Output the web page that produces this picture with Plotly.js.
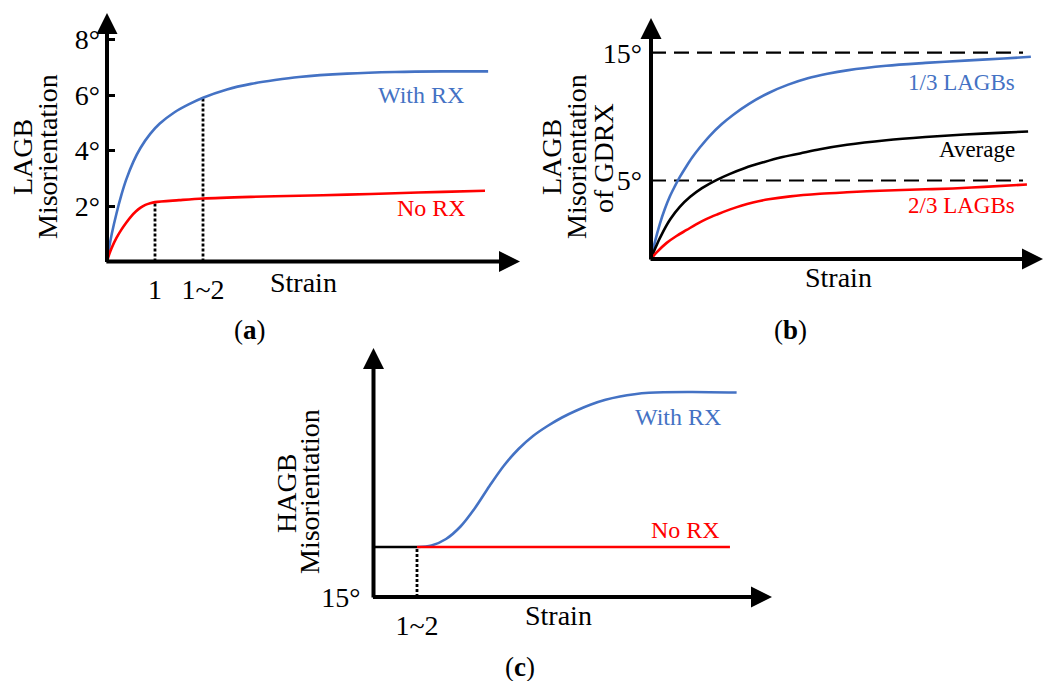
<!DOCTYPE html>
<html>
<head>
<meta charset="utf-8">
<script src="https://cdn.plot.ly/plotly-3.0.1.min.js"></script>
<style>
  html, body { margin: 0; padding: 0; background: #fff; }
  #chart { width: 1046px; height: 681px; }
</style>
</head>
<body>
<div id="chart"></div>
<script>
// ---- (a) LAGB misorientation vs strain ----
const aWithRxStrain = [0, 0.05, 0.1, 0.2, 0.3, 0.4, 0.55, 0.7, 0.9, 1.1, 1.4, 1.7, 2.0, 2.5, 3.0, 3.5, 4.0, 5.0, 6.0, 7.0, 7.94];
const aWithRx       = [0, 0.55, 1.0, 1.75, 2.4, 2.95, 3.6, 4.1, 4.6, 4.97, 5.37, 5.66, 5.9, 6.2, 6.4, 6.54, 6.65, 6.77, 6.83, 6.85, 6.85];
const aNoRxStrain   = [0, 0.05, 0.1, 0.2, 0.3, 0.4, 0.5, 0.6, 0.7, 0.8, 0.9, 1.0, 1.5, 2.0, 3.0, 4.0, 5.0, 6.0, 7.0, 7.875];
const aNoRx         = [0, 0.28, 0.5, 0.86, 1.15, 1.4, 1.62, 1.8, 1.94, 2.04, 2.1, 2.14, 2.21, 2.27, 2.33, 2.37, 2.41, 2.46, 2.51, 2.55];
const aTickVals     = [2, 4, 6, 8];
const aTickText     = ['2°', '4°', '6°', '8°'];
const aStrainMarks  = [1, 2];
const aStrainText   = ['1', '1~2'];

// ---- (b) LAGB misorientation of GDRX vs strain ----
const bOneThirdStrain = [0, 0.1, 0.23, 0.35, 0.48, 0.6, 0.74, 0.9, 1.05, 1.25, 1.5, 1.8, 2.1, 2.5, 3.0, 3.5, 4.0, 4.5, 5.0, 6.0, 7.0, 8.0, 9.0, 9.69];
const bOneThird       = [-1.14, 0.2, 1.65, 2.75, 3.75, 4.5, 5.3, 6.1, 6.8, 7.6, 8.5, 9.4, 10.15, 11.0, 11.85, 12.5, 13.0, 13.35, 13.62, 13.98, 14.2, 14.38, 14.55, 14.68];
const bAverageStrain  = [0, 0.1, 0.31, 0.5, 0.74, 1.0, 1.3, 1.68, 2.0, 2.4, 2.86, 3.3, 3.8, 4.31, 5.0, 6.0, 7.0, 8.0, 9.0, 9.62];
const bAverage        = [-1.14, -0.35, 1.0, 2.0, 2.95, 3.72, 4.4, 5.05, 5.5, 5.98, 6.42, 6.8, 7.12, 7.45, 7.8, 8.15, 8.4, 8.6, 8.75, 8.83];
const bTwoThirdStrain = [0, 0.15, 0.4, 0.65, 0.91, 1.15, 1.42, 1.7, 2.02, 2.3, 2.6, 3.0, 3.55, 4.31, 5.0, 5.84, 7.0, 7.7, 8.5, 9.59];
const bTwoThird       = [-1.14, -0.6, 0.12, 0.66, 1.13, 1.57, 2.0, 2.36, 2.74, 3.03, 3.28, 3.53, 3.76, 3.96, 4.08, 4.2, 4.31, 4.38, 4.5, 4.69];
const bLimits         = [5, 15];
const bLimitText      = ['5°', '15°'];
const bLimitEnd       = 9.49;

// ---- (c) HAGB misorientation vs strain ----
const cBaseStrain   = [0, 1.5];
const cBase         = [20, 20];
const cNoRxStrain   = [1.5, 12.29];
const cNoRx         = [20, 20];
const cWithRxStrain = [1.5, 2.0, 2.5, 3.0, 3.5, 4.0, 4.5, 5.0, 5.5, 6.0, 6.5, 7.0, 7.5, 8.0, 8.5, 9.0, 9.5, 10, 11, 12.52];
const cWithRx       = [20, 20.15, 20.8, 22.05, 23.9, 26.1, 28.15, 29.8, 31.1, 32.1, 32.95, 33.65, 34.25, 34.72, 35.05, 35.28, 35.42, 35.48, 35.5, 35.45];
const cStrainMark   = 1.5;
const cStrainText   = '1~2';
const cFloor        = 15;
const cFloorText    = '15°';

const BLUE = '#4472C4';
const RED = '#FF0000';
const BLACK = '#000000';
const SERIF = '"Liberation Serif", "Times New Roman", serif';
const W = 1046, H = 681;

const px = v => v / W;
const py = v => 1 - v / H;

function curve(x, y, color, xa, ya, shape) {
  return {
    type: 'scatter', mode: 'lines', x: x, y: y, xaxis: xa, yaxis: ya,
    line: { color: color, width: 2.6, shape: shape || 'spline', smoothing: 0.9 },
    hoverinfo: 'skip', showlegend: false
  };
}

function dashed(x, y, xa, ya, dash, width) {
  return {
    type: 'scatter', mode: 'lines', x: x, y: y, xaxis: xa, yaxis: ya,
    line: { color: BLACK, width: width, dash: dash },
    hoverinfo: 'skip', showlegend: false
  };
}

// heights of the strain markers in (a), taken from the curves they meet
const aMarkHeights = [
  aNoRx[aNoRxStrain.indexOf(aStrainMarks[0])],
  aWithRx[aWithRxStrain.indexOf(aStrainMarks[1])]
];

const traces = [
  // (a)
  dashed([aStrainMarks[0], aStrainMarks[0]], [0, aMarkHeights[0]], 'x', 'y', '3px,2px', 2.8),
  dashed([aStrainMarks[1], aStrainMarks[1]], [0, aMarkHeights[1]], 'x', 'y', '3px,2px', 2.8),
  curve(aWithRxStrain, aWithRx, BLUE, 'x', 'y'),
  curve(aNoRxStrain, aNoRx, RED, 'x', 'y'),
  // (b)
  dashed([0, bLimitEnd], [bLimits[0], bLimits[0]], 'x2', 'y2', '15px,8px', 2.2),
  dashed([0, bLimitEnd], [bLimits[1], bLimits[1]], 'x2', 'y2', '15px,8px', 2.2),
  curve(bOneThirdStrain, bOneThird, BLUE, 'x2', 'y2'),
  curve(bAverageStrain, bAverage, BLACK, 'x2', 'y2'),
  curve(bTwoThirdStrain, bTwoThird, RED, 'x2', 'y2'),
  // (c)
  dashed([cStrainMark, cStrainMark], [cFloor, cBase[1]], 'x3', 'y3', '3px,2px', 2.8),
  curve(cBaseStrain, cBase, BLACK, 'x3', 'y3', 'linear'),
  curve(cWithRxStrain, cWithRx, BLUE, 'x3', 'y3'),
  curve(cNoRxStrain, cNoRx, RED, 'x3', 'y3', 'linear')
];

const tickFont = { family: SERIF, size: 28, color: BLACK };

function axisBase(extra) {
  return Object.assign({
    showgrid: false, zeroline: false, showline: false, fixedrange: true,
    ticks: '', tickfont: tickFont
  }, extra);
}

// axis arrows (drawn as annotations in data units)
function arrow(xa, ya, x, y, ax, ay) {
  return {
    xref: xa, yref: ya, axref: xa, ayref: ya,
    x: x, y: y, ax: ax, ay: ay, text: '',
    showarrow: true, arrowhead: 2, arrowsize: 1.05, arrowwidth: 4, arrowcolor: BLACK
  };
}

function label(text, x, y, xa, ya, color, size, anchor) {
  return {
    xref: xa, yref: ya, x: x, y: y, text: text, showarrow: false,
    xanchor: anchor || 'center', yanchor: 'middle',
    font: { family: SERIF, size: size, color: color }
  };
}

function vlabel(text, x, y) {
  return {
    xref: 'paper', yref: 'paper', x: px(x), y: py(y), text: text, showarrow: false,
    textangle: -90, xanchor: 'center', yanchor: 'middle',
    font: { family: SERIF, size: 28, color: BLACK }
  };
}

const annotations = [
  // axes
  arrow('x', 'y', 8.604, 0, -0.045, 0),
  arrow('x', 'y', 0, 8.955, 0, -0.072),
  arrow('x2', 'y2', 10, -1.142, -0.05, -1.142),
  arrow('x2', 'y2', 0, 17.715, 0, -1.3),
  arrow('x3', 'y3', 13.74, 15, -0.07, 15),
  arrow('x3', 'y3', 0, 39.9, 0, 14.8),

  // series labels
  label('With RX', 7.48, 6.0, 'x', 'y', BLUE, 24, 'right'),
  label('No RX', 7.52, 1.93, 'x', 'y', RED, 24, 'right'),
  label('1/3 LAGBs', 9.34, 12.63, 'x2', 'y2', BLUE, 23, 'right'),
  label('Average', 9.34, 7.39, 'x2', 'y2', BLACK, 23, 'right'),
  label('2/3 LAGBs', 9.34, 3.08, 'x2', 'y2', RED, 23, 'right'),
  label('With RX', 12.05, 33, 'x3', 'y3', BLUE, 24, 'right'),
  label('No RX', 12.02, 21.7, 'x3', 'y3', RED, 24, 'right'),

  // axis titles
  label('Strain', px(303), py(282), 'paper', 'paper', BLACK, 28),
  label('Strain', px(838), py(277), 'paper', 'paper', BLACK, 28),
  label('Strain', px(558), py(615), 'paper', 'paper', BLACK, 28),
  vlabel('LAGB', 22, 157),
  vlabel('Misorientation', 47, 157),
  vlabel('LAGB', 551, 157),
  vlabel('Misorientation', 576, 157),
  vlabel('of GDRX', 603, 158),
  vlabel('HAGB', 286, 494),
  vlabel('Misorientation', 310, 492),

  // panel letters
  label('(<b>a</b>)', px(250), py(330), 'paper', 'paper', BLACK, 27),
  label('(<b>b</b>)', px(790), py(330), 'paper', 'paper', BLACK, 27),
  label('(<b>c</b>)', px(520), py(667), 'paper', 'paper', BLACK, 27)
];

const layout = {
  width: W, height: H,
  margin: { l: 0, r: 0, t: 0, b: 0, pad: 0 },
  paper_bgcolor: '#ffffff', plot_bgcolor: 'rgba(0,0,0,0)',
  showlegend: false,
  xaxis: axisBase({
    domain: [px(107), px(520)], range: [0, 8.604], anchor: 'y',
    tickvals: aStrainMarks, ticktext: aStrainText, ticklabelstandoff: 8
  }),
  yaxis: axisBase({
    domain: [py(261.5), py(13)], range: [0, 8.955], anchor: 'x',
    tickvals: aTickVals, ticktext: aTickText,
    ticks: 'inside', ticklen: 8, tickwidth: 3, tickcolor: BLACK, ticklabelstandoff: 6
  }),
  xaxis2: axisBase({
    domain: [px(651), px(1043)], range: [0, 10], anchor: 'y2', showticklabels: false
  }),
  yaxis2: axisBase({
    domain: [py(259), py(18)], range: [-1.142, 17.715], anchor: 'x2',
    tickvals: bLimits, ticktext: bLimitText, ticklabelstandoff: 8
  }),
  xaxis3: axisBase({
    domain: [px(373.5), px(772)], range: [0, 13.74], anchor: 'y3',
    tickvals: [cStrainMark], ticktext: [cStrainText], ticklabelstandoff: 8
  }),
  yaxis3: axisBase({
    domain: [py(598), py(348)], range: [14.9, 39.9], anchor: 'x3',
    tickvals: [cFloor], ticktext: [cFloorText], ticklabelstandoff: 12
  }),
  annotations: annotations
};

Plotly.newPlot('chart', traces, layout, { staticPlot: true, displayModeBar: false });
</script>
</body>
</html>
